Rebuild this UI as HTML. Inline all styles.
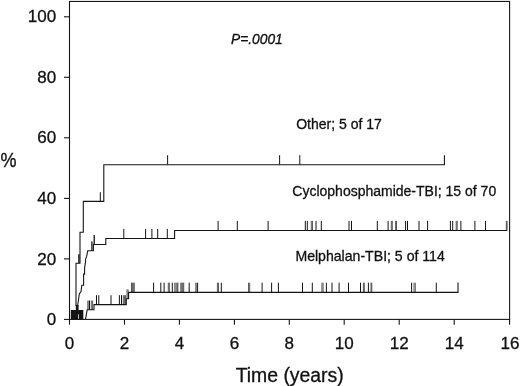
<!DOCTYPE html>
<html lang="en"><head><meta charset="utf-8"><title>Cumulative incidence</title>
<style>html,body{margin:0;padding:0;background:#fff}body{width:520px;height:386px;overflow:hidden}svg{display:block}text{font-family:"Liberation Sans",Arial,Helvetica,sans-serif;fill:#111;stroke:#111;stroke-width:.3px}</style>
</head><body>
<svg width="520" height="386" viewBox="0 0 520 386">
<rect width="520" height="386" fill="#fff"/>
<g fill="none" stroke="#141414" stroke-width="1.08">
<rect x="69.5" y="1.45" width="440.10" height="317.95"/>
<path d="M64.0 319.4H69.5"/>
<path d="M64.0 258.9H69.5"/>
<path d="M64.0 198.4H69.5"/>
<path d="M64.0 137.8H69.5"/>
<path d="M64.0 77.3H69.5"/>
<path d="M64.0 16.8H69.5"/>
<path d="M69.5 319.4V324.7"/>
<path d="M124.5 319.4V324.7"/>
<path d="M179.4 319.4V324.7"/>
<path d="M234.4 319.4V324.7"/>
<path d="M289.3 319.4V324.7"/>
<path d="M344.2 319.4V324.7"/>
<path d="M399.2 319.4V324.7"/>
<path d="M454.2 319.4V324.7"/>
<path d="M509.6 319.4V324.7"/>
<path d="M76 306V263.3H80V232.2H83.3V201.4H103.8V164.7H444.4V155.3"/>
<path d="M78.9 263.3v-9.0" stroke-width="1.4"/>
<path d="M100.3 201.4v-9.2" stroke-width="1.0"/>
<path d="M167.6 164.7v-9.5M279.6 164.7v-9.5M299.8 164.7v-9.5" stroke-width="1.0"/>
<path d="M77.5 306L78.5 300L79.3 294L81 291.6L81.8 285.3H83.6V274.1H84.6V268L85.5 262V259.5L86.7 256.2L87.7 250.8H93.4V244.5H105.8V238.5H174.6V230.5H507"/>
<path d="M91.9 250.8v-9.2" stroke-width="1.3"/>
<path d="M94.2 244.5v-9.4" stroke-width="1.3"/>
<path d="M123.8 238.5v-9.6M145.6 238.5v-9.6M151.9 238.5v-9.6M157.7 238.5v-9.6M167.3 238.5v-9.6" stroke-width="1.0"/>
<path d="M218.1 230.5v-9.6M237.3 230.5v-9.6M268.1 230.5v-9.6M305.3 230.5v-9.6M307.3 230.5v-9.6M316.0 230.5v-9.6M321.3 230.5v-9.6M349.0 230.5v-9.6M351.5 230.5v-9.6M377.3 230.5v-9.6M388.1 230.5v-9.6M405.6 230.5v-9.6M407.5 230.5v-9.6M419.0 230.5v-9.6M427.6 230.5v-9.6M450.4 230.5v-9.6M452.7 230.5v-9.6M460.9 230.5v-9.6M474.9 230.5v-9.6M485.5 230.5v-9.6" stroke-width="1.0"/>
<path d="M311.3 230.5v-9.6M312.5 230.5v-9.6M391.3 230.5v-9.6M392.3 230.5v-9.6M395.6 230.5v-9.6M396.5 230.5v-9.6M456.2 230.5v-9.6M457.2 230.5v-9.6M506.3 230.5v-9.6M507.1 230.5v-9.6" stroke-width="0.7"/>
<path d="M85.5 319.4L87.2 309.7H94V304.6H126.3V298.7H128.6V292.35H458V282.6"/>
<path d="M88.0 309.7v-9.2M89.5 309.7v-9.2" stroke-width="1.0"/>
<path d="M91.3 309.7v-9.2M92.6 309.7v-9.2" stroke-width="0.7"/>
<path d="M96.5 304.6v-9.4M98.8 304.6v-9.4M111.0 304.6v-9.4M119.4 304.6v-9.4M121.5 304.6v-9.4" stroke-width="1.0"/>
<path d="M123.3 304.6v-9.4M124.4 304.6v-9.4M125.5 304.6v-9.4" stroke-width="0.7"/>
<path d="M127.0 298.7v-9.3M128.1 298.7v-9.3" stroke-width="0.7"/>
<path d="M153.6 292.4v-9.7M160.8 292.4v-9.7M164.1 292.4v-9.7M172.3 292.4v-9.7M189.2 292.4v-9.7M196.0 292.4v-9.7M197.6 292.4v-9.7M221.3 292.4v-9.7M262.1 292.4v-9.7M271.6 292.4v-9.7M278.4 292.4v-9.7M302.5 292.4v-9.7M312.3 292.4v-9.7M326.4 292.4v-9.7M332.0 292.4v-9.7M339.1 292.4v-9.7M348.5 292.4v-9.7M360.5 292.4v-9.7M368.4 292.4v-9.7M411.6 292.4v-9.7M436.3 292.4v-9.7" stroke-width="1.0"/>
<path d="M131.5 292.4v-9.7M132.3 292.4v-9.7M133.3 292.4v-9.7M134.3 292.4v-9.7M168.3 292.4v-9.7M169.4 292.4v-9.7M174.8 292.4v-9.7M176.0 292.4v-9.7M177.1 292.4v-9.7M177.9 292.4v-9.7M180.8 292.4v-9.7M181.8 292.4v-9.7M182.8 292.4v-9.7M183.7 292.4v-9.7M217.4 292.4v-9.7M218.5 292.4v-9.7M248.5 292.4v-9.7M249.7 292.4v-9.7M321.9 292.4v-9.7M323.1 292.4v-9.7M363.4 292.4v-9.7M364.3 292.4v-9.7M371.0 292.4v-9.7M371.8 292.4v-9.7M414.0 292.4v-9.7M415.3 292.4v-9.7" stroke-width="0.7"/>
</g>
<path d="M70.8 309.9H75.8V305H78.6V309.9H83.3V319.4H70.8Z" fill="#141414"/>
<path d="M78 314.2h1v4.6h-1z" fill="#bbb"/>
<g font-size="17px" text-anchor="end">
<text x="56.2" y="325.0">0</text>
<text x="56.2" y="264.5">20</text>
<text x="56.2" y="204.0">40</text>
<text x="56.2" y="143.4">60</text>
<text x="56.2" y="82.9">80</text>
<text x="56.2" y="22.4">100</text>
</g>
<g font-size="17px" text-anchor="middle">
<text x="69.5" y="349.3">0</text>
<text x="124.5" y="349.3">2</text>
<text x="179.4" y="349.3">4</text>
<text x="234.4" y="349.3">6</text>
<text x="289.3" y="349.3">8</text>
<text x="344.2" y="349.3">10</text>
<text x="399.2" y="349.3">12</text>
<text x="454.2" y="349.3">14</text>
<text x="509.9" y="349.3">16</text>
</g>
<text transform="translate(0.6 167) scale(0.9 1)" font-size="20px">%</text>
<text x="289.7" y="382" font-size="19.4px" text-anchor="middle">Time (years)</text>
<text x="231" y="43.8" font-size="13.8px" font-style="italic">P=.0001</text>
<text x="296.2" y="129" font-size="14px">Other; 5 of 17</text>
<text x="292.3" y="196" font-size="14px">Cyclophosphamide-TBI; 15 of 70</text>
<text x="295.4" y="260.8" font-size="14.1px">Melphalan-TBI; 5 of 114</text>
</svg>
</body></html>
